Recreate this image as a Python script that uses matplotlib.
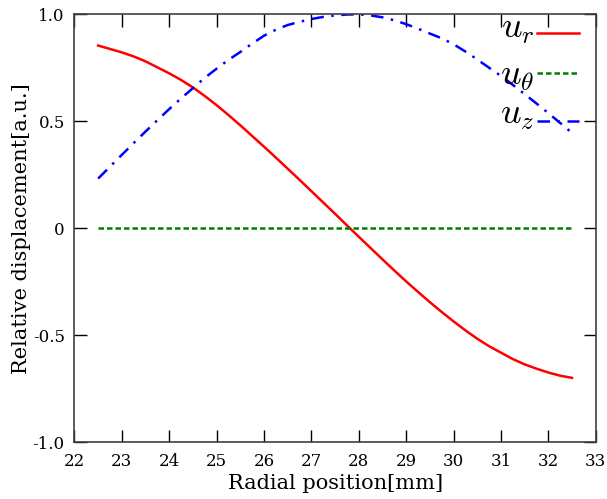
import matplotlib
matplotlib.use("Agg")
import matplotlib.pyplot as plt
from matplotlib.lines import Line2D
from matplotlib.ticker import FixedLocator, FuncFormatter

# Radial position [mm]
radius = [22.50, 22.75, 23.00, 23.25, 23.50, 23.75, 24.00, 24.25, 24.50, 24.75,
          25.00, 25.25, 25.50, 25.75, 26.00, 26.25, 26.50, 26.75, 27.00, 27.25,
          27.50, 27.75, 28.00, 28.25, 28.50, 28.75, 29.00, 29.25, 29.50, 29.75,
          30.00, 30.25, 30.50, 30.75, 31.00, 31.25, 31.50, 31.75, 32.00, 32.25,
          32.50]

# Relative displacement components [a.u.]
u_r = [0.854, 0.838, 0.822, 0.803, 0.780, 0.752, 0.724, 0.693, 0.658, 0.618,
       0.575, 0.529, 0.481, 0.431, 0.381, 0.330, 0.278, 0.226, 0.173, 0.120,
       0.067, 0.013, -0.040, -0.093, -0.146, -0.198, -0.249, -0.298, -0.346, -0.392,
       -0.436, -0.478, -0.517, -0.552, -0.582, -0.612, -0.637, -0.657, -0.675, -0.690,
       -0.700]
u_theta = [0.0] * len(radius)
u_z = [0.232, 0.288, 0.343, 0.398, 0.452, 0.505, 0.557, 0.607, 0.655, 0.703,
       0.746, 0.787, 0.824, 0.863, 0.900, 0.928, 0.950, 0.965, 0.978, 0.988,
       0.995, 0.999, 1.000, 0.995, 0.986, 0.972, 0.954, 0.933, 0.910, 0.888,
       0.860, 0.826, 0.789, 0.750, 0.712, 0.670, 0.627, 0.583, 0.538, 0.492,
       0.445]

x_ticks = list(range(22, 34))
y_ticks = [-1.0, -0.5, 0.0, 0.5, 1.0]

plt.rcParams["font.family"] = ["DejaVu Serif"]
plt.rcParams["mathtext.fontset"] = "cm"

fig = plt.figure(figsize=(6.07, 4.99), dpi=100)
ax = fig.add_axes([0.1227, 0.1142, 0.8587, 0.8571])

styles = [
    dict(color="#ff0000", lw=1.8),
    dict(color="#008000", lw=1.8, dashes=(2.2, 1.2)),
    dict(color="#0000ff", lw=1.8, dashes=(5, 3, 1, 3)),
]
labels = [r"$u_r$", r"$u_\theta$", r"$u_z$"]

for series, st in zip([u_r, u_theta, u_z], styles):
    ax.plot(radius, series, **st)

ax.set_xlim(22, 33)
ax.set_ylim(-1.0, 1.0)
ax.xaxis.set_major_locator(FixedLocator(x_ticks))
ax.yaxis.set_major_locator(FixedLocator(y_ticks))
ax.xaxis.set_major_formatter(FuncFormatter(lambda v, p: f"{int(v)}"))
ax.yaxis.set_major_formatter(FuncFormatter(lambda v, p: "0" if v == 0 else f"{v:.1f}"))

ax.tick_params(direction="in", length=9, width=1.0, top=True, right=True,
               labelsize=12, colors="black")
ax.tick_params(axis="x", pad=8)
ax.tick_params(axis="y", pad=7)
for s in ax.spines.values():
    s.set_color("#404040")
    s.set_linewidth(1.2)

ax.set_xlabel("Radial position[mm]", fontsize=15, labelpad=3)
ax.set_ylabel("Relative displacement[a.u.]", fontsize=15)
ax.yaxis.set_label_coords(-0.083, 0.5)

# key: label to the left of each line sample, in the upper right corner
key_text_x = 0.882
key_line_x = (0.887, 0.968)
key_line_y = [0.957, 0.862, 0.750]
key_base_y = [0.944, 0.836, 0.743]
for lab, st, ly, by in zip(labels, styles, key_line_y, key_base_y):
    ax.add_line(Line2D(key_line_x, [ly, ly], transform=ax.transAxes, **st))
    ax.text(key_text_x, by, lab, transform=ax.transAxes, ha="right",
            va="baseline", fontsize=26)

fig.savefig("out.png", dpi=100)
